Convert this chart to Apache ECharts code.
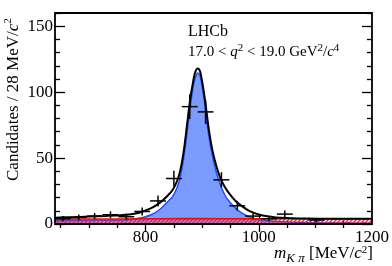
<!DOCTYPE html>
<html><head><meta charset="utf-8">
<script src="https://cdn.jsdelivr.net/npm/echarts@6/dist/echarts.min.js"></script>
<style>html,body{margin:0;padding:0;background:#fff}#c{width:392px;height:266px}</style>
</head><body><div id="c"></div>
<script>
// ---- data ----
const binCenters = [654,682,710,738,766,794,822,850,878,906,934,962,990,1018,1046,1074,1102,1130,1158,1186];
const binCounts  = [4,5,6,7,5.5,9.5,17.5,34.5,89,85,33.5,13.8,6,4,7.5,0,3,0,0,0];
const binErrors  = [2,2.2,2.4,2.6,2.3,3.1,4.2,5.9,9.4,9.2,5.8,3.7,2.4,2,2.7,1.1,1.7,1.1,1.1,1.1];
const binHalfWidth = 14;

const totalMass = [640,670,700,730,760,780,795,810,825,838,848,856,862,868,874,879,884,888,892,896,900,904,908,912,918,925,932,940,948,960,972,985,1000,1015,1030,1050,1075,1100,1150,1200];
const totalVal  = [4.8,5.2,5.6,6.1,6.8,7.8,9.5,12,16,21,26,33,42,57,78,95,108,115.5,118,116,108,97,84,71,56,44,35,28,23,17,13,9.5,7.2,5.8,5.0,4.5,4.2,4.0,3.9,3.9];

const sigMass = [640,700,750,775,795,810,825,838,848,856,862,868,874,879,884,888,892,896,900,904,908,912,918,925,932,940,948,960,972,985,1000,1015,1050,1100,1200];
const sigVal  = [2.4,2.7,3.0,3.6,5,7,11,16.5,21,28,37,52,72,89,104,111,114.5,112.5,104,93,79,66,52,39,30,22,17,11.5,7.8,5,3.3,2.5,1.5,1.0,0.6];

const bkgMass = [640,760,880,1000,1200];
const bkgVal  = [3.7,3.8,4.1,4.0,3.8];

const xMajorTicks = [800,1000,1200];
const xMinorTicks = [650,700,750,850,900,950,1050,1100,1150];
const yMajorTicks = [0,50,100,150];
const yMinorTicks = [10,20,30,40,60,70,80,90,110,120,130,140,160];

// ---- helpers ----
const zip = (a,b) => a.map((v,i)=>[v,b[i]]);
const FONT = 'Liberation Serif';

const pc = document.createElement('canvas'); pc.width = 4; pc.height = 4;
const g = pc.getContext('2d');
g.strokeStyle = '#ff1a1a'; g.lineWidth = 1.3;
g.beginPath();
g.moveTo(0,4); g.lineTo(4,0);
g.moveTo(-2,2); g.lineTo(2,-2);
g.moveTo(2,6); g.lineTo(6,2);
g.stroke();

function xAx(pos, ticks, len, labels){
  return {type:'value', min:640, max:1200, position:pos,
    axisLine:{show:false}, splitLine:{show:false},
    axisTick:{show:true, inside:true, length:len, customValues:ticks, lineStyle:{color:'#000', width:1.3}},
    axisLabel: labels ? {show:true, customValues:labels, margin:5, fontFamily:FONT, fontSize:17, color:'#000', formatter:v=>String(v)} : {show:false}};
}
function yAx(pos, ticks, len, labels){
  return {type:'value', min:0, max:160, position:pos,
    axisLine:{show:false}, splitLine:{show:false},
    axisTick:{show:true, inside:true, length:len, customValues:ticks, lineStyle:{color:'#000', width:1.3}},
    axisLabel: labels ? {show:true, customValues:labels, margin:2, fontFamily:FONT, fontSize:17, color:'#000', formatter:v=>String(v)} : {show:false}};
}

const chart = echarts.init(document.getElementById('c'), null, {renderer:'canvas'});
chart.setOption({
  animation:false,
  backgroundColor:'#fff',
  grid:{left:55, right:19.5, top:13, bottom:42, show:true, borderColor:'#000', borderWidth:1.8, backgroundColor:'transparent', z:10},
  xAxis:[
    xAx('bottom', [800,1000], 8, xMajorTicks),
    xAx('bottom', xMinorTicks, 4, null),
    xAx('top', [800,1000], 8, null),
    xAx('top', xMinorTicks, 4, null)
  ],
  yAxis:[
    yAx('left', yMajorTicks, 10, yMajorTicks),
    yAx('left', yMinorTicks, 5, null),
    yAx('right', yMajorTicks, 10, null),
    yAx('right', yMinorTicks, 5, null)
  ],
  series:[
    {type:'line', name:'signal', data:zip(sigMass,sigVal), smooth:0.3, showSymbol:false, z:1,
     lineStyle:{color:'#1f4dff', width:1.5}, areaStyle:{color:'#7b9bff', opacity:1}},
    {type:'line', name:'background', data:zip(bkgMass,bkgVal), smooth:0.3, showSymbol:false, z:2,
     lineStyle:{color:'#ff0000', width:1.5}, areaStyle:{color:{image:pc, repeat:'repeat'}, opacity:1}},
    {type:'line', name:'total', data:zip(totalMass,totalVal), smooth:0.3, showSymbol:false, z:3,
     lineStyle:{color:'#000', width:2}},
    {type:'custom', name:'data', z:4,
     data: binCenters.map((c,i)=>[c, binCounts[i], binErrors[i]]),
     renderItem(params, api){
       const x = api.value(0), y = api.value(1), e = api.value(2);
       const pL = api.coord([x-binHalfWidth, y]), pR = api.coord([x+binHalfWidth, y]);
       const pT = api.coord([x, y+e]), pB = api.coord([x, Math.max(0, y-e)]);
       return {type:'group', children:[
         {type:'line', shape:{x1:pL[0],y1:pL[1],x2:pR[0],y2:pR[1]}, style:{stroke:'#000', lineWidth:1.5}},
         {type:'line', shape:{x1:pT[0],y1:pT[1],x2:pB[0],y2:pB[1]}, style:{stroke:'#000', lineWidth:1.5}}
       ]};
     }}
  ],
  graphic:[
    {type:'text', left:188, top:24, style:{text:'LHCb', font:'16px "Liberation Serif"', fill:'#000'}},
    {type:'text', x:188, y:43, style:{
      text:'{n|17.0 < }{i|q}{s|2}{n| < 19.0 GeV}{s|2}{n|/}{i|c}{s|4}',
      fill:'#000', textVerticalAlign:'top',
      rich:{
        n:{fontFamily:FONT, fontSize:15, lineHeight:17, verticalAlign:'bottom'},
        i:{fontFamily:FONT, fontSize:15, fontStyle:'italic', lineHeight:17, verticalAlign:'bottom'},
        s:{fontFamily:FONT, fontSize:11, lineHeight:11, verticalAlign:'top'}
      }}},
    {type:'text', x:12.5, y:181, rotation:Math.PI/2, style:{
      text:'{n|Candidates / 28 MeV/}{i|c}{s|2}',
      fill:'#000', textAlign:'left', textVerticalAlign:'middle',
      rich:{
        n:{fontFamily:FONT, fontSize:17, lineHeight:19, verticalAlign:'bottom'},
        i:{fontFamily:FONT, fontSize:17, fontStyle:'italic', lineHeight:19, verticalAlign:'bottom'},
        s:{fontFamily:FONT, fontSize:11, lineHeight:11, verticalAlign:'top'}
      }}},
    {type:'text', x:373, y:245, style:{
      text:'{i|m}{b|K π}{n| [MeV/}{i|c}{s|2}{n|]}',
      fill:'#000', textAlign:'right', textVerticalAlign:'top',
      rich:{
        n:{fontFamily:FONT, fontSize:17, lineHeight:17, verticalAlign:'top'},
        i:{fontFamily:FONT, fontSize:17, fontStyle:'italic', lineHeight:17, verticalAlign:'top'},
        b:{fontFamily:FONT, fontSize:13, fontStyle:'italic', lineHeight:20, verticalAlign:'bottom'},
        s:{fontFamily:FONT, fontSize:11, lineHeight:11, verticalAlign:'top'}
      }}}
  ]
});
</script></body></html>
